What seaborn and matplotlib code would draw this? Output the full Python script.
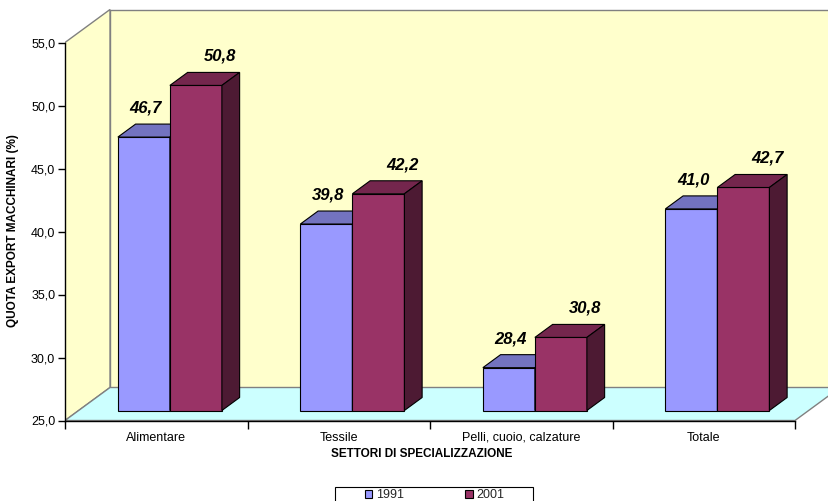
import numpy as np
import pandas as pd
import matplotlib
matplotlib.use("Agg")
import matplotlib.pyplot as plt
from matplotlib.patches import Polygon, Rectangle, Patch
from matplotlib.ticker import FuncFormatter
import seaborn as sns

# ---- data -------------------------------------------------------------
settori = ["Alimentare", "Tessile", "Pelli, cuoio, calzature", "Totale"]
anni = ["1991", "2001"]
quota_1991 = [46.7, 39.8, 28.4, 41.0]
quota_2001 = [50.8, 42.2, 30.8, 42.7]
y_ticks = [25, 30, 35, 40, 45, 50, 55]

df = pd.DataFrame({
    "settore": settori * 2,
    "anno": [anni[0]] * len(settori) + [anni[1]] * len(settori),
    "quota": quota_1991 + quota_2001,
})

# ---- style ------------------------------------------------------------
sns.set_theme(style="white")
plt.rcParams["font.family"] = ["Liberation Sans", "DejaVu Sans"]

blu, rosso = "#9999FF", "#993366"
blu_top, blu_side = "#7373C0", "#5C5CA0"
rosso_top, rosso_side = "#74264D", "#4D1A33"
wall_color, floor_color, wall_edge = "#FFFFCC", "#CCFFFF", "#808080"

W, H = 829, 501
fig = plt.figure(figsize=(W / 100, H / 100), dpi=100)
fig.patch.set_facecolor("white")

# axes box (pixels)
ax_l, ax_r, ax_b, ax_t = 65, 829, 420.5, 8
ax = fig.add_axes([ax_l / W, (H - ax_b) / H, (ax_r - ax_l) / W, (ax_b - ax_t) / H])
ax.set_facecolor("none")

y0, y1 = y_ticks[0], y_ticks[-1]
n = len(settori)
px_y = (ax_b - 42.5) / (y1 - y0)   # pixels per percentage point
px_x = 182.5                       # pixels per category slot


def dx(px):
    return px / px_x


def dy(px):
    return px / px_y


# oblique depth of the box, and of the bars placed in the middle of it
DX, DY = dx(45), dy(33)
OX, OY = DX * 10 / 33, DY * 10 / 33
BX, BY = DX * 13 / 33, DY * 13 / 33

# ---- bars (front faces from seaborn) -----------------------------------
sns.barplot(data=df, x="settore", y="quota", hue="anno", order=settori,
            hue_order=anni, palette=[blu, rosso], saturation=1, width=0.57,
            edgecolor="black", linewidth=0.8, legend=False, ax=ax)
bars = list(ax.patches)

ax.set_xlim(-0.5, -0.5 + (ax_r - ax_l) / px_x)
ax.set_ylim(y0, y0 + (ax_b - ax_t) / px_y)

# ---- walls and floor ---------------------------------------------------
xa, xb = -0.5, n - 0.5
back = Polygon([(xa + DX, y0 + DY), (xa + DX, y1 + DY), (xb + DX, y1 + DY), (xb + DX, y0 + DY)],
               closed=True, facecolor=wall_color, edgecolor=wall_edge, lw=1.0, zorder=0.5)
left = Polygon([(xa, y0), (xa, y1), (xa + DX, y1 + DY), (xa + DX, y0 + DY)],
               closed=True, facecolor=wall_color, edgecolor=wall_edge, lw=1.0, zorder=0.6)
floor = Polygon([(xa, y0), (xb, y0), (xb + DX, y0 + DY), (xa + DX, y0 + DY)],
                closed=True, facecolor=floor_color, edgecolor=wall_edge, lw=1.0, zorder=0.7)
for p in (back, left, floor):
    ax.add_patch(p)

# ---- extrude bars into boxes and label them ----------------------------
shades = {0: (blu_top, blu_side), 1: (rosso_top, rosso_side)}
label_shift = {0: dx(2), 1: dx(24)}
blu_rgb = np.array(matplotlib.colors.to_rgb(blu))
for bar in bars:
    v = bar.get_height()
    k = 0 if np.allclose(bar.get_facecolor()[:3], blu_rgb, atol=0.02) else 1
    fx0 = bar.get_x() + OX
    w = bar.get_width()
    fx1 = fx0 + w
    base = y0 + OY
    top = v + OY
    bar.set_x(fx0)
    bar.set_y(base)
    bar.set_height(v - y0)
    bar.set_zorder(2 + k)
    top_c, side_c = shades[k]
    ax.add_patch(Polygon([(fx0, top), (fx1, top), (fx1 + BX, top + BY), (fx0 + BX, top + BY)],
                         closed=True, facecolor=top_c, edgecolor="black", lw=0.8, zorder=2 + k))
    ax.add_patch(Polygon([(fx1, base), (fx1, top), (fx1 + BX, top + BY), (fx1 + BX, base + BY)],
                         closed=True, facecolor=side_c, edgecolor="black", lw=0.8, zorder=2 + k))
    ax.text(fx0 + w / 2 + label_shift[k], top + dy(29), f"{v:.1f}".replace(".", ","),
            ha="center", va="center", fontsize=12, fontweight="bold", fontstyle="italic",
            color="black", zorder=6)

# ---- axes, ticks and labels -------------------------------------------
for side in ("top", "right"):
    ax.spines[side].set_visible(False)
for side in ("left", "bottom"):
    ax.spines[side].set_color("black")
    ax.spines[side].set_linewidth(1.0)
    ax.spines[side].set_zorder(4)
ax.spines["left"].set_bounds(y0, y1)
ax.spines["bottom"].set_bounds(xa, xb)

ax.set_yticks(y_ticks)
ax.yaxis.set_major_formatter(FuncFormatter(lambda v, _: f"{v:.1f}".replace(".", ",")))
ax.set_xticks(np.arange(n + 1) - 0.5)
ax.set_xticklabels([])
ax.set_xticks(np.arange(n), minor=True)
ax.set_xticklabels(settori, minor=True)

ax.tick_params(axis="x", which="major", bottom=True, length=6, width=1, color="black",
               direction="out")
ax.tick_params(axis="x", which="minor", bottom=True, length=0, pad=8, labelsize=9,
               labelcolor="black")
ax.tick_params(axis="y", left=True, length=5, width=1, color="black", pad=2,
               labelsize=9, labelcolor="black", direction="out")

ax.set_xlabel("SETTORI DI SPECIALIZZAZIONE", fontsize=8.5, fontweight="bold", color="black")
ax.set_ylabel("QUOTA EXPORT MACCHINARI (%)", fontsize=8.5, fontweight="bold", color="black")
ax.xaxis.set_label_coords((422 - ax_l) / (ax_r - ax_l), (ax_b - 448) / (ax_b - ax_t))
ax.yaxis.set_label_coords((19 - ax_l) / (ax_r - ax_l), (ax_b - 231) / (ax_b - ax_t))

# ---- legend -----------------------------------------------------------
handles = [Patch(facecolor=c, edgecolor="black", linewidth=0.8) for c in (blu, rosso)]
fig.legend(handles, anni, loc="center left", bbox_to_anchor=(365 / W, 1 - 495 / H),
           ncol=2, frameon=False, fontsize=9, handlelength=0.6, handleheight=0.6,
           handletextpad=0.3, columnspacing=4.9, borderpad=0, borderaxespad=0)
fig.add_artist(Rectangle((335 / W, 1 - 508 / H), 198 / W, 21 / H, transform=fig.transFigure,
                         fill=False, edgecolor="black", lw=0.8))

fig.savefig("out.png", dpi=100, facecolor="white")
